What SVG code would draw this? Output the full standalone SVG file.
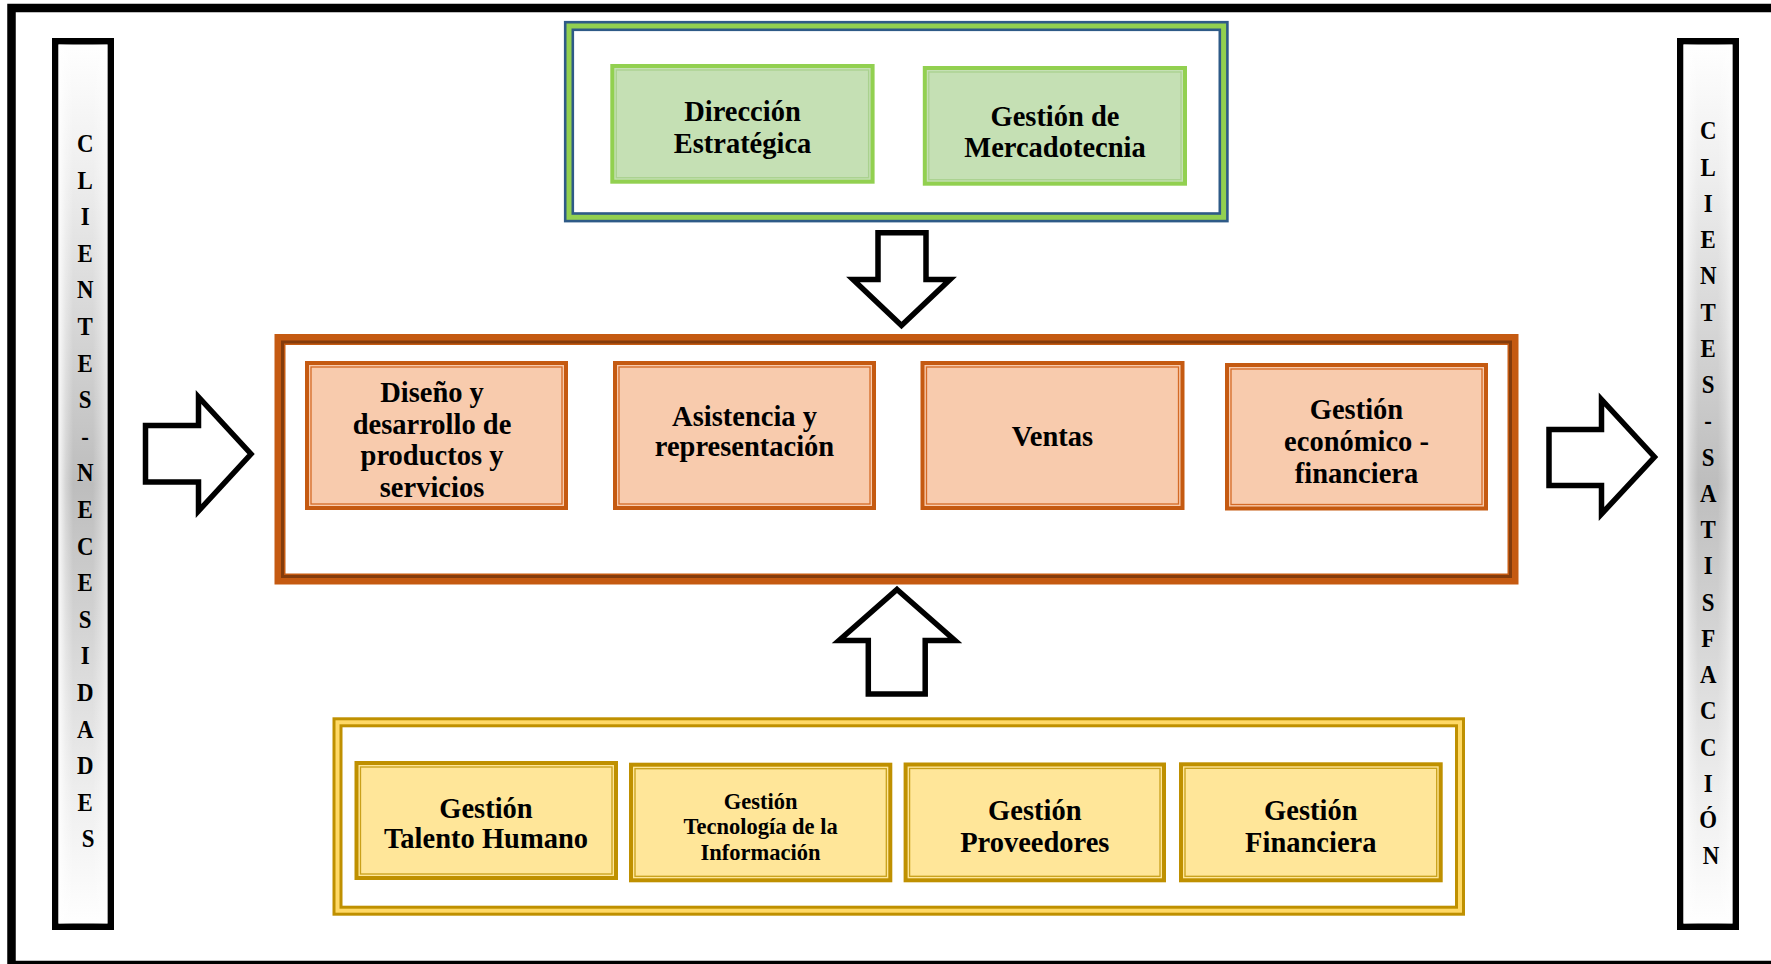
<svg xmlns="http://www.w3.org/2000/svg" width="1771" height="964" viewBox="0 0 1771 964">
  <defs>
    <linearGradient id="barV" x1="0" y1="0" x2="0" y2="1">
      <stop offset="0" stop-color="#ffffff"/>
      <stop offset="0.15" stop-color="#eeeeee"/>
      <stop offset="0.5" stop-color="#bdbdbd"/>
      <stop offset="0.85" stop-color="#eeeeee"/>
      <stop offset="1" stop-color="#ffffff"/>
    </linearGradient>
    <linearGradient id="barH" x1="0" y1="0" x2="1" y2="0">
      <stop offset="0" stop-color="#ffffff" stop-opacity="0.9"/>
      <stop offset="0.15" stop-color="#ffffff" stop-opacity="0.35"/>
      <stop offset="0.3" stop-color="#ffffff" stop-opacity="0"/>
      <stop offset="0.7" stop-color="#ffffff" stop-opacity="0"/>
      <stop offset="0.85" stop-color="#ffffff" stop-opacity="0.25"/>
      <stop offset="1" stop-color="#ffffff" stop-opacity="0.6"/>
    </linearGradient>
  </defs>
  <style>
    .lbl { font-family: "Liberation Serif", "DejaVu Serif", serif; font-weight: bold; font-size: 28.5px; text-anchor: middle; fill: #000; }
    .sm { font-size: 22.5px; }
    .side { font-family: "Liberation Serif", "DejaVu Serif", serif; font-weight: bold; font-size: 26px; text-anchor: middle; fill: #000; }
    .bar { fill: url(#barV); stroke: #000; stroke-width: 6.5; }
    .barShade { fill: url(#barH); stroke: none; }
    .green { fill: #c5e0b4; stroke: #92d050; stroke-width: 4; }
    .greenIn { fill: none; stroke: #a9d18e; stroke-width: 1.3; }
    .orange { fill: #f8cbad; stroke: #c55a11; stroke-width: 4; }
    .orangeIn { fill: none; stroke: #d46a26; stroke-width: 1.3; }
    .yellow { fill: #ffe699; stroke: #bf9000; stroke-width: 4; }
    .yellowIn { fill: none; stroke: #c9a01a; stroke-width: 1.3; }
    .blockArrow { fill: #fff; stroke: #000; stroke-width: 5.5; stroke-linejoin: miter; stroke-miterlimit: 10; }
  </style>

  <rect width="1771" height="964" fill="#fff"/>

  <!-- page frame (open on the right) -->
  <rect x="11.5" y="8" width="1800" height="957" fill="none" stroke="#000" stroke-width="8.5"/>

  <!-- left column: customer needs -->
  <g id="clientes-necesidades">
    <rect class="bar" x="55.25" y="41.25" width="55.5" height="885.5"/>
    <rect class="barShade" x="58.5" y="44.5" width="49" height="879"/>
    <g transform="translate(88 0) scale(0.88 1)">
      <text class="side">
        <tspan x="0" y="152">C</tspan>
        <tspan x="0" y="188.6">L</tspan>
        <tspan x="0" y="225.2">I</tspan>
        <tspan x="0" y="261.8">E</tspan>
        <tspan x="0" y="298.4">N</tspan>
        <tspan x="0" y="335">T</tspan>
        <tspan x="0" y="371.6">E</tspan>
        <tspan x="0" y="408.2">S</tspan>
        <tspan x="0" y="444.8">-</tspan>
        <tspan x="0" y="481.4">N</tspan>
        <tspan x="0" y="518">E</tspan>
        <tspan x="0" y="554.6">C</tspan>
        <tspan x="0" y="591.2">E</tspan>
        <tspan x="0" y="627.8">S</tspan>
        <tspan x="0" y="664.4">I</tspan>
        <tspan x="0" y="701">D</tspan>
        <tspan x="0" y="737.6">A</tspan>
        <tspan x="0" y="774.2">D</tspan>
        <tspan x="0" y="810.8">E</tspan>
        <tspan x="0" y="847.4">S</tspan>
      </text>
    </g>
  </g>

  <!-- right column: customer satisfaction -->
  <g id="clientes-satisfaccion">
    <rect class="bar" x="1680.25" y="41.25" width="55.5" height="885.5"/>
    <rect class="barShade" x="1683.5" y="44.5" width="49" height="879"/>
    <g transform="translate(1711 0) scale(0.88 1)">
      <text class="side">
        <tspan x="0" y="139.5">C</tspan>
        <tspan x="0" y="175.75">L</tspan>
        <tspan x="0" y="212">I</tspan>
        <tspan x="0" y="248.25">E</tspan>
        <tspan x="0" y="284.5">N</tspan>
        <tspan x="0" y="320.75">T</tspan>
        <tspan x="0" y="357">E</tspan>
        <tspan x="0" y="393.25">S</tspan>
        <tspan x="0" y="429.5">-</tspan>
        <tspan x="0" y="465.75">S</tspan>
        <tspan x="0" y="502">A</tspan>
        <tspan x="0" y="538.25">T</tspan>
        <tspan x="0" y="574.5">I</tspan>
        <tspan x="0" y="610.75">S</tspan>
        <tspan x="0" y="647">F</tspan>
        <tspan x="0" y="683.25">A</tspan>
        <tspan x="0" y="719.5">C</tspan>
        <tspan x="0" y="755.75">C</tspan>
        <tspan x="0" y="792">I</tspan>
        <tspan x="0" y="828.25">Ó</tspan>
        <tspan x="0" y="864.5">N</tspan>
      </text>
    </g>
  </g>

  <!-- strategic processes -->
  <g id="procesos-estrategicos">
    <rect x="569" y="26" width="654.6" height="191.3" fill="#fff" stroke="#2e5a87" stroke-width="10.2"/>
    <rect x="569" y="26" width="654.6" height="191.3" fill="none" stroke="#92d050" stroke-width="5"/>
    <g id="direccion-estrategica">
      <rect class="green" x="612.3" y="66" width="260.3" height="115.7"/>
      <rect class="greenIn" x="616.3" y="70" width="252.3" height="107.7"/>
      <text class="lbl"><tspan x="742.5" y="121">Dirección</tspan><tspan x="742.5" y="152.7">Estratégica</tspan></text>
    </g>
    <g id="gestion-mercadotecnia">
      <rect class="green" x="924.8" y="68" width="260.2" height="115.7"/>
      <rect class="greenIn" x="928.8" y="72" width="252.2" height="107.7"/>
      <text class="lbl"><tspan x="1055" y="125.5">Gestión de</tspan><tspan x="1055" y="157">Mercadotecnia</tspan></text>
    </g>
  </g>

  <!-- core processes -->
  <g id="procesos-clave">
    <rect x="280" y="339.5" width="1233" height="239.5" fill="#fff" stroke="#c55a11" stroke-width="11"/>
    <rect x="282.5" y="342" width="1228" height="234.5" fill="none" stroke="#843c0c" stroke-width="3"/>
    <g id="diseno-desarrollo">
      <rect class="orange" x="307" y="363" width="259" height="145"/>
      <rect class="orangeIn" x="311" y="367" width="251" height="137"/>
      <text class="lbl"><tspan x="432" y="402">Diseño y</tspan><tspan x="432" y="433.5">desarrollo de</tspan><tspan x="432" y="465">productos y</tspan><tspan x="432" y="496.5">servicios</tspan></text>
    </g>
    <g id="asistencia-representacion">
      <rect class="orange" x="615" y="363" width="259" height="145"/>
      <rect class="orangeIn" x="619" y="367" width="251" height="137"/>
      <text class="lbl"><tspan x="744.5" y="425.5">Asistencia y</tspan><tspan x="744.5" y="456">representación</tspan></text>
    </g>
    <g id="ventas">
      <rect class="orange" x="922.5" y="363" width="260" height="145"/>
      <rect class="orangeIn" x="926.5" y="367" width="252" height="137"/>
      <text class="lbl" x="1052.5" y="446">Ventas</text>
    </g>
    <g id="gestion-economico-financiera">
      <rect class="orange" x="1227" y="365" width="259" height="143.5"/>
      <rect class="orangeIn" x="1231" y="369" width="251" height="135.5"/>
      <text class="lbl"><tspan x="1356.5" y="419.3">Gestión</tspan><tspan x="1356.5" y="450.7">económico -</tspan><tspan x="1356.5" y="482.5">financiera</tspan></text>
    </g>
  </g>

  <!-- support processes -->
  <g id="procesos-apoyo">
    <rect x="337.5" y="722.3" width="1122.5" height="188.4" fill="#fff" stroke="#bf9000" stroke-width="10"/>
    <rect x="337.5" y="722.3" width="1122.5" height="188.4" fill="none" stroke="#ffd966" stroke-width="4"/>
    <g id="gestion-talento-humano">
      <rect class="yellow" x="356.5" y="763" width="259.5" height="115"/>
      <rect class="yellowIn" x="360.5" y="767" width="251.5" height="107"/>
      <text class="lbl"><tspan x="486" y="818.3">Gestión</tspan><tspan x="486" y="848.3">Talento Humano</tspan></text>
    </g>
    <g id="gestion-tecnologia">
      <rect class="yellow" x="631" y="764.7" width="259.3" height="115.6"/>
      <rect class="yellowIn" x="635" y="768.7" width="251.3" height="107.6"/>
      <text class="lbl sm"><tspan x="760.6" y="808.7">Gestión</tspan><tspan x="760.6" y="834.3">Tecnología de la</tspan><tspan x="760.6" y="860">Información</tspan></text>
    </g>
    <g id="gestion-proveedores">
      <rect class="yellow" x="905.6" y="764.5" width="258.4" height="115.8"/>
      <rect class="yellowIn" x="909.6" y="768.5" width="250.4" height="107.8"/>
      <text class="lbl"><tspan x="1034.8" y="820">Gestión</tspan><tspan x="1034.8" y="851.7">Proveedores</tspan></text>
    </g>
    <g id="gestion-financiera">
      <rect class="yellow" x="1181" y="764.3" width="259.7" height="116"/>
      <rect class="yellowIn" x="1185" y="768.3" width="251.7" height="108"/>
      <text class="lbl"><tspan x="1310.8" y="820">Gestión</tspan><tspan x="1310.8" y="851.7">Financiera</tspan></text>
    </g>
  </g>

  <!-- block arrows between the process levels -->
  <g id="connectors">
    <path class="blockArrow" d="M145.5,425.5 H198.5 V397 L251,454 L198.5,511 V482 H145.5 Z"/>
    <path class="blockArrow" d="M1549,429.5 H1601.5 V399.5 L1654.5,457 L1601.5,514 V485.5 H1549 Z"/>
    <path class="blockArrow" d="M878,232.8 H926 V279.5 H950 L901.5,325.5 L853,279.5 H878 Z"/>
    <path class="blockArrow" d="M897,589.5 L955,640.5 H925.2 V694 H868.3 V640.5 H839 Z"/>
  </g>
</svg>
